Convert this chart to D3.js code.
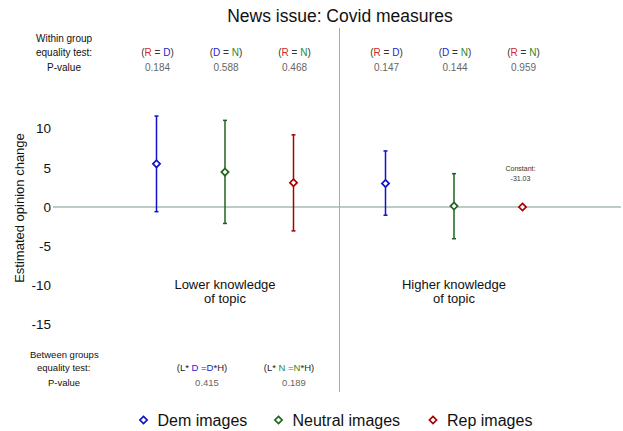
<!DOCTYPE html>
<html><head><meta charset="utf-8">
<script src="https://cdn.jsdelivr.net/npm/d3@7"></script>
<style>
html,body{margin:0;padding:0;background:#fff;}
text{font-family:"Liberation Sans",Arial,Helvetica,sans-serif;}
</style></head>
<body><svg id="c" width="623" height="431"></svg>
<script>
// ---- data ----
const groups = ["Lower", "Higher"];
const groupLabels = [["Lower knowledge", "of topic"], ["Higher knowledge", "of topic"]];
const series = ["Dem images", "Neutral images", "Rep images"];
const lowEst = [5.5, 4.45, 3.1];
const lowLo = [-0.6, -2.1, -3.05];
const lowHi = [11.6, 11.05, 9.2];
const highEst = [3.0, 0.12, 0];
const highLo = [-1.05, -4.05, null];
const highHi = [7.15, 4.25, null];
const yTicks = [10, 5, 0, -5, -10, -15];
const withinTests = [["R", "D"], ["D", "N"], ["R", "N"]];
const withinP = [["0.184", "0.588", "0.468"], ["0.147", "0.144", "0.959"]];
const betweenTests = ["D", "N"];
const betweenP = ["0.415", "0.189"];
const constantLabel = ["Constant:", "-31.03"];

const markColor = {"Dem images": "#1010c8", "Neutral images": "#1e641e", "Rep images": "#a50000"};
const letterColor = {R: "#d42a2a", D: "#2222d8", N: "#2a8a2a"};

const svg = d3.select("#c");

const y = d3.scaleLinear().domain([22.83, -23.6]).range([28, 392]);
const xg = d3.scaleBand().domain(groups).range([110.5, 568.5]);
const xs = d3.scalePoint().domain(series).range([-68.5, 68.5]);
const xpos = (g, s) => xg(g) + xg.bandwidth() / 2 + xs(s);

// title
svg.append("text").attr("x", 340).attr("y", 22).attr("text-anchor", "middle")
  .attr("font-size", 17.5).attr("fill", "#111").text("News issue: Covid measures");

// zero line
svg.append("line").attr("x1", 53).attr("x2", 621).attr("y1", y(0)).attr("y2", y(0))
  .attr("stroke", "#a7bab3").attr("stroke-width", 1.5);
// divider
svg.append("line").attr("x1", 339.5).attr("x2", 339.5).attr("y1", 28).attr("y2", 392)
  .attr("stroke", "#aaaaaa").attr("stroke-width", 1);

// y axis
const yAxis = d3.axisLeft(y).tickValues(yTicks).tickSize(0).tickPadding(0)
  .tickFormat(d => String(d));
const ga = svg.append("g").attr("transform", "translate(51,0)").call(yAxis);
ga.select(".domain").remove();
ga.selectAll("text").attr("font-size", 13.5).attr("fill", "#111")
  .attr("font-family", "'Liberation Sans',Arial,sans-serif");
svg.append("text").attr("transform", "translate(24,208) rotate(-90)").attr("text-anchor", "middle")
  .attr("font-size", 13).attr("fill", "#111").text("Estimated opinion change");

// points
const pts = [];
series.forEach((s, i) => {
  pts.push({g: "Lower", s, est: lowEst[i], lo: lowLo[i], hi: lowHi[i]});
  pts.push({g: "Higher", s, est: highEst[i], lo: highLo[i], hi: highHi[i]});
});
const pg = svg.append("g");
pts.forEach(p => {
  const cx = xpos(p.g, p.s), c = markColor[p.s];
  if (p.lo !== null) {
    pg.append("line").attr("x1", cx).attr("x2", cx).attr("y1", y(p.hi)).attr("y2", y(p.lo))
      .attr("stroke", c).attr("stroke-width", 1.5);
    [p.hi, p.lo].forEach(v => pg.append("line").attr("x1", cx - 2).attr("x2", cx + 2)
      .attr("y1", y(v)).attr("y2", y(v)).attr("stroke", c).attr("stroke-width", 1.5));
  }
  const cy = y(p.est), r = 3.6;
  pg.append("path").attr("d", `M${cx},${cy - r}L${cx + r},${cy}L${cx},${cy + r}L${cx - r},${cy}Z`)
    .attr("fill", "#fff").attr("stroke", c).attr("stroke-width", 1.7);
});

// constant label
const rc = xpos("Higher", "Rep images");
constantLabel.forEach((t, i) => svg.append("text").attr("x", rc - 2).attr("y", 171 + i * 9.5)
  .attr("text-anchor", "middle").attr("font-size", 7).attr("fill", "#333").text(t));

// group labels
groups.forEach((g, i) => {
  groupLabels[i].forEach((t, j) => svg.append("text").attr("x", xg(g) + xg.bandwidth() / 2)
    .attr("y", 289 + j * 14).attr("text-anchor", "middle").attr("font-size", 13)
    .attr("fill", "#111").text(t));
});

// within-group header
const hdr = [["Within group", 36, 42, "start"], ["equality test:", 36, 56, "start"], ["P-value", 64, 71, "middle"]];
hdr.forEach(h => svg.append("text").attr("x", h[1]).attr("y", h[2]).attr("text-anchor", h[3])
  .attr("font-size", 10).attr("fill", "#111").text(h[0]));
groups.forEach((g, gi) => {
  series.forEach((s, si) => {
    const cx = xpos(g, s);
    const [a, b] = withinTests[si];
    const t = svg.append("text").attr("x", cx + 1).attr("y", 56).attr("text-anchor", "middle")
      .attr("font-size", 10).attr("fill", "#333");
    t.append("tspan").text("(");
    t.append("tspan").attr("fill", letterColor[a]).text(a);
    t.append("tspan").text(" = ");
    t.append("tspan").attr("fill", letterColor[b]).text(b);
    t.append("tspan").text(")");
    svg.append("text").attr("x", cx + 1).attr("y", 71).attr("text-anchor", "middle")
      .attr("font-size", 10).attr("fill", "#666").text(withinP[gi][si]);
  });
});

// between-groups footer
const ftr = [["Between groups", 30, 358, "start"], ["equality test:", 37, 371, "start"], ["P-value", 64, 386, "middle"]];
ftr.forEach(h => svg.append("text").attr("x", h[1]).attr("y", h[2]).attr("text-anchor", h[3])
  .attr("font-size", 9.5).attr("fill", "#111").text(h[0]));
const bx = [202, 289];
betweenTests.forEach((L, i) => {
  const t = svg.append("text").attr("x", bx[i]).attr("y", 371).attr("text-anchor", "middle")
    .attr("font-size", 9.5).attr("fill", "#222");
  t.append("tspan").text("(L* ");
  t.append("tspan").attr("fill", letterColor[L]).text(L + " =" + L);
  t.append("tspan").text("*H)");
  svg.append("text").attr("x", bx[i] + 5).attr("y", 386).attr("text-anchor", "middle")
    .attr("font-size", 9.5).attr("fill", "#666").text(betweenP[i]);
});

// legend
const lx = [143.5, 278.5, 433];
series.forEach((s, i) => {
  const cx = lx[i], cy = 420, r = 3.6;
  svg.append("path").attr("d", `M${cx},${cy - r}L${cx + r},${cy}L${cx},${cy + r}L${cx - r},${cy}Z`)
    .attr("fill", "#fff").attr("stroke", markColor[s]).attr("stroke-width", 1.7);
  svg.append("text").attr("x", cx + 14).attr("y", cy + 5.5).attr("font-size", 16)
    .attr("fill", "#111").text(s);
});
</script></body></html>
